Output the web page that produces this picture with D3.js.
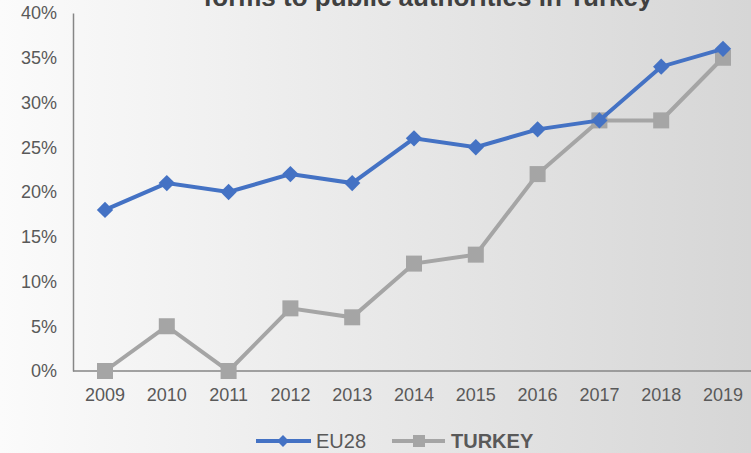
<!DOCTYPE html>
<html>
<head>
<meta charset="utf-8">
<script src="https://d3js.org/d3.v7.min.js"></script>
<style>
  html, body { margin: 0; padding: 0; overflow: hidden; }
  text { font-family: "Liberation Sans", Arial, sans-serif; }
</style>
</head>
<body>
<div id="chart"></div>
<script>
var width = 751,
	height = 453;

// data
var years = ["2009","2010","2011","2012","2013","2014","2015","2016","2017","2018","2019"];
var eu28 = [18, 21, 20, 22, 21, 26, 25, 27, 28, 34, 36];
var turkey = [0, 5, 0, 7, 6, 12, 13, 22, 28, 28, 35];
var yTicks = [0, 5, 10, 15, 20, 25, 30, 35, 40];
var seriesNames = ["EU28", "TURKEY"];

var svg = d3.select("#chart").append("svg")
	.attr("width", width)
	.attr("height", height);

// background gradient, light on the left and grey on the right
var defs = svg.append("defs");
var grad = defs.append("linearGradient")
	.attr("id", "bg")
	.attr("x1", "0%").attr("y1", "0%")
	.attr("x2", "100%").attr("y2", "0%");
grad.append("stop").attr("offset", "0%").style("stop-color", "#fbfbfb");
grad.append("stop").attr("offset", "100%").style("stop-color", "#d6d6d6");

svg.append("rect")
	.attr("width", width)
	.attr("height", height)
	.style("fill", "url(#bg)");

var x = d3.scalePoint()
	.domain(years)
	.range([105, 723]);

var y = d3.scaleLinear()
	.domain([0, 40])
	.range([371, 13]);

var textColor = "#595959";

// title, clipped at the top like in the original
svg.append("text")
	.attr("x", 428)
	.attr("y", 6)
	.attr("text-anchor", "middle")
	.style("font-size", "26px")
	.style("font-weight", "bold")
	.style("fill", "#404040")
	.text("forms to public authorities in Turkey");

// y axis
var yAxis = svg.append("g")
	.attr("transform", "translate(73,0)")
	.call(d3.axisLeft(y).tickValues(yTicks).tickSize(0).tickPadding(16).tickFormat(function(d){ return d + "%"; }));
yAxis.select(".domain").attr("stroke", "#868686").attr("stroke-width", 1.5);
yAxis.selectAll("text")
	.style("font-size", "18px")
	.style("fill", textColor)
	.attr("font-family", null);

// x axis
svg.append("line")
	.attr("x1", 73).attr("x2", width)
	.attr("y1", y(0)).attr("y2", y(0))
	.attr("stroke", "#868686")
	.attr("stroke-width", 1.5);

svg.append("g").selectAll("text")
	.data(years)
	.enter()
	.append("text")
	.attr("x", function(d){ return x(d); })
	.attr("y", 401)
	.attr("text-anchor", "middle")
	.style("font-size", "18px")
	.style("fill", textColor)
	.text(function(d){ return d; });

var line = d3.line()
	.x(function(d, i){ return x(years[i]); })
	.y(function(d){ return y(d); });

// turkey series
svg.append("path")
	.datum(turkey)
	.attr("d", line)
	.attr("fill", "none")
	.attr("stroke", "#a5a5a5")
	.attr("stroke-width", 4);

svg.append("g").selectAll("rect")
	.data(turkey)
	.enter()
	.append("rect")
	.attr("x", function(d, i){ return x(years[i]) - 8; })
	.attr("y", function(d){ return y(d) - 8; })
	.attr("width", 16)
	.attr("height", 16)
	.attr("fill", "#a5a5a5");

// eu28 series
svg.append("path")
	.datum(eu28)
	.attr("d", line)
	.attr("fill", "none")
	.attr("stroke", "#4472c4")
	.attr("stroke-width", 4);

var diamond = d3.symbol().type(d3.symbolDiamond2).size(170);
svg.append("g").selectAll("path")
	.data(eu28)
	.enter()
	.append("path")
	.attr("d", diamond)
	.attr("transform", function(d, i){ return "translate(" + x(years[i]) + "," + y(d) + ")"; })
	.attr("fill", "#4472c4");

// legend
var legend = svg.append("g");
legend.append("line")
	.attr("x1", 256).attr("x2", 311).attr("y1", 441).attr("y2", 441)
	.attr("stroke", "#4472c4").attr("stroke-width", 4);
legend.append("path")
	.attr("d", d3.symbol().type(d3.symbolDiamond2).size(90))
	.attr("transform", "translate(283,441)")
	.attr("fill", "#4472c4");
legend.append("text")
	.attr("x", 316).attr("y", 448)
	.style("font-size", "20px")
	.style("fill", textColor)
	.text(seriesNames[0]);

legend.append("line")
	.attr("x1", 392).attr("x2", 445).attr("y1", 441).attr("y2", 441)
	.attr("stroke", "#a5a5a5").attr("stroke-width", 4);
legend.append("rect")
	.attr("x", 413).attr("y", 435).attr("width", 12).attr("height", 12)
	.attr("fill", "#a5a5a5");
legend.append("text")
	.attr("x", 451).attr("y", 448)
	.style("font-size", "20px")
	.style("font-weight", "bold")
	.style("fill", textColor)
	.text(seriesNames[1]);
</script>
</body>
</html>
